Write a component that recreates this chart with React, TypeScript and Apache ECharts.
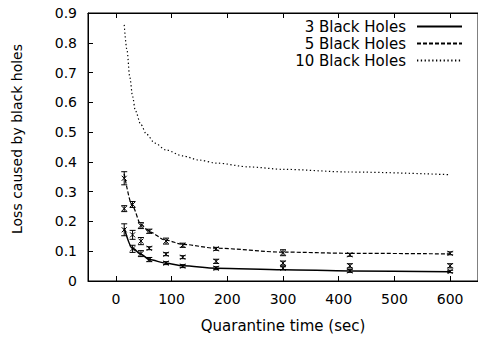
import React, { useEffect, useRef } from "react";
import * as echarts from "echarts";

const xTicks = [0, 100, 200, 300, 400, 500, 600];
const yTicks = [0, 0.1, 0.2, 0.3, 0.4, 0.5, 0.6, 0.7, 0.8, 0.9];

const sampleX = [15, 30, 45, 60, 90, 120, 180, 300, 420, 600];
const bh3Line = [0.178, 0.11, 0.09, 0.072, 0.06, 0.051, 0.043, 0.038, 0.034, 0.031];
const bh5Line = [0.36, 0.25, 0.19, 0.165, 0.137, 0.123, 0.11, 0.097, 0.093, 0.091];
const bh10X = [15, 20, 25, 30, 35, 45, 55, 70, 90, 120, 150, 180, 240, 300, 420, 600];
const bh10Line = [0.86, 0.775, 0.685, 0.62, 0.572, 0.525, 0.493, 0.463, 0.44, 0.42, 0.406, 0.396, 0.383, 0.375, 0.366, 0.357];

const ptsTop = [0.345, 0.257, 0.186, 0.167, 0.134, 0.12, 0.108, 0.095, 0.088, 0.093];
const errTop = [0.022, 0.01, 0.01, 0.007, 0.01, 0.007, 0.005, 0.01, 0.005, 0.005];
const ptsMid = [0.243, 0.155, 0.134, 0.11, 0.09, 0.08, 0.066, 0.06, 0.051, 0.051];
const errMid = [0.01, 0.015, 0.012, 0.005, 0.005, 0.005, 0.007, 0.007, 0.007, 0.007];
const ptsBot = [0.172, 0.108, 0.092, 0.072, 0.06, 0.05, 0.043, 0.043, 0.034, 0.032];
const errBot = [0.02, 0.012, 0.01, 0.007, 0.005, 0.005, 0.005, 0.005, 0.005, 0.004];

const FONT = "DejaVu Sans";

function errData(vals: number[], errs: number[]) {
  return sampleX.map((x, i) => [x, vals[i], vals[i] - errs[i], vals[i] + errs[i]]);
}

function renderErr(params: any, api: any) {
  const x = api.value(0);
  const c = api.coord([x, api.value(1)]);
  const lo = api.coord([x, api.value(2)]);
  const hi = api.coord([x, api.value(3)]);
  const cap = 3;
  const m = 2.5;
  const st = { stroke: "#000", lineWidth: 1 };
  return {
    type: "group",
    children: [
      { type: "line", shape: { x1: c[0], y1: lo[1], x2: c[0], y2: hi[1] }, style: st },
      { type: "line", shape: { x1: c[0] - cap, y1: lo[1], x2: c[0] + cap, y2: lo[1] }, style: st },
      { type: "line", shape: { x1: c[0] - cap, y1: hi[1], x2: c[0] + cap, y2: hi[1] }, style: st },
      { type: "line", shape: { x1: c[0] - m, y1: c[1] - m, x2: c[0] + m, y2: c[1] + m }, style: st },
      { type: "line", shape: { x1: c[0] - m, y1: c[1] + m, x2: c[0] + m, y2: c[1] - m }, style: st },
    ],
  };
}

export default function App() {
  const ref = useRef<HTMLDivElement>(null);
  useEffect(() => {
    if (!ref.current) return;
    const chart = echarts.init(ref.current, undefined, { renderer: "svg" });
    const axisText = { fontFamily: FONT, fontSize: 14, color: "#000" };
    chart.setOption({
      animation: false,
      grid: {
        left: 88,
        top: 13,
        width: 397,
        height: 270,
        show: true,
        borderColor: "#000",
        borderWidth: 1,
        backgroundColor: "transparent",
      },
      legend: {
        data: ["3 Black Holes", "5 Black Holes", "10 Black Holes"],
        orient: "vertical",
        align: "right",
        right: 15,
        top: 19,
        padding: 0,
        itemWidth: 45,
        itemHeight: 12,
        itemGap: 2,
        itemStyle: { opacity: 0 },
        textStyle: { fontFamily: FONT, fontSize: 15, color: "#000", padding: [0, 6, 0, 0] },
      },
      xAxis: [
        {
          type: "value",
          min: -50,
          max: 650,
          position: "bottom",
          name: "Quarantine time (sec)",
          nameLocation: "middle",
          nameGap: 37,
          nameTextStyle: { fontFamily: FONT, fontSize: 15, color: "#000" },
          splitLine: { show: false },
          axisLine: { show: true, onZero: false, lineStyle: { color: "#000", width: 1 } },
          axisTick: { show: true, inside: true, length: 5, customValues: xTicks, lineStyle: { color: "#000" } },
          axisLabel: { customValues: xTicks, margin: 11, ...axisText },
        },
        {
          type: "value",
          min: -50,
          max: 650,
          position: "top",
          splitLine: { show: false },
          axisLine: { show: true, onZero: false, lineStyle: { color: "#000", width: 1 } },
          axisTick: { show: true, inside: true, length: 5, customValues: xTicks, lineStyle: { color: "#000" } },
          axisLabel: { show: false },
        },
      ],
      yAxis: {
        type: "value",
        min: 0,
        max: 0.9,
        interval: 0.1,
        splitLine: { show: false },
        axisLine: { show: true, onZero: false, lineStyle: { color: "#000", width: 1 } },
        axisTick: { show: true, inside: true, length: 5, customValues: yTicks, lineStyle: { color: "#000" } },
        axisLabel: {
          margin: 11,
          customValues: yTicks,
          formatter: (v: number) => (v === 0 ? "0" : v.toFixed(1)),
          ...axisText,
        },
      },
      graphic: [
        {
          type: "text",
          x: 17,
          y: 139,
          rotation: Math.PI / 2,
          style: {
            text: "Loss caused by black holes",
            fontFamily: FONT,
            fontSize: 14,
            fill: "#000",
            align: "center",
            verticalAlign: "middle",
          },
        },
      ],
      series: [
        {
          name: "3 Black Holes",
          type: "line",
          data: sampleX.map((x, i) => [x, bh3Line[i]]),
          symbol: "none",
          smooth: 0.3,
          smoothMonotone: "x",
          lineStyle: { color: "#000", width: 1.5, type: "solid" },
          itemStyle: { color: "#000" },
        },
        {
          name: "5 Black Holes",
          type: "line",
          data: sampleX.map((x, i) => [x, bh5Line[i]]),
          symbol: "none",
          smooth: 0.3,
          smoothMonotone: "x",
          lineStyle: { color: "#000", width: 1.2, type: [4, 2] },
          itemStyle: { color: "#000" },
        },
        {
          name: "10 Black Holes",
          type: "line",
          data: bh10X.map((x, i) => [x, bh10Line[i]]),
          symbol: "none",
          smooth: 0.3,
          smoothMonotone: "x",
          lineStyle: { color: "#000", width: 1.2, type: [1.3, 2.5] },
          itemStyle: { color: "#000" },
        },
        {
          type: "custom",
          renderItem: renderErr,
          data: errData(ptsTop, errTop),
          encode: { x: 0, y: [1, 2, 3] },
          z: 5,
        },
        {
          type: "custom",
          renderItem: renderErr,
          data: errData(ptsMid, errMid),
          encode: { x: 0, y: [1, 2, 3] },
          z: 5,
        },
        {
          type: "custom",
          renderItem: renderErr,
          data: errData(ptsBot, errBot),
          encode: { x: 0, y: [1, 2, 3] },
          z: 5,
        },
      ],
    });
    return () => chart.dispose();
  }, []);
  return (
    <div
      ref={ref}
      style={{ position: "absolute", left: 0, top: 0, width: 478, height: 338 }}
    />
  );
}
